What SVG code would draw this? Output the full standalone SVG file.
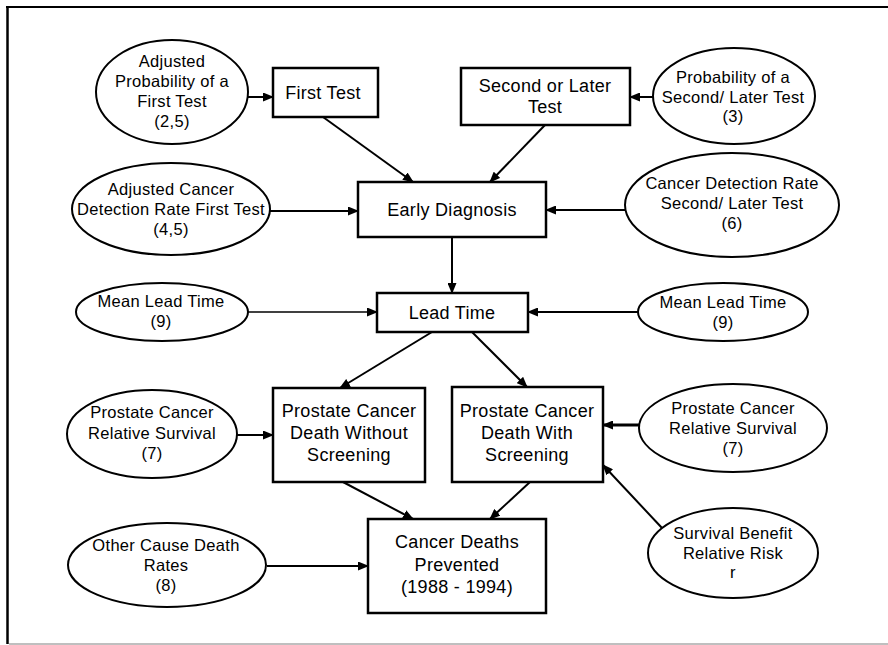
<svg xmlns="http://www.w3.org/2000/svg" width="888" height="645" viewBox="0 0 888 645">
<style>
  .bg{fill:#fff}
  .box{fill:#fff;stroke:#000;stroke-width:2.5}
  .ell{fill:#fff;stroke:#000;stroke-width:2}
  .bt{font-family:"Liberation Sans",Arial,Helvetica,sans-serif;font-size:18px;fill:#000;text-anchor:middle;letter-spacing:0.3px}
  .et{font-family:"Liberation Sans",Arial,Helvetica,sans-serif;font-size:16.5px;fill:#000;text-anchor:middle;letter-spacing:0.3px}
  .c{stroke:#000;stroke-width:2;fill:none;marker-end:url(#ah)}
  .thin{stroke-width:1.3}
  .thick{stroke-width:3}
</style>
<defs>
  <marker id="ah" markerUnits="userSpaceOnUse" markerWidth="11" markerHeight="9" refX="10" refY="4.5" orient="auto">
    <path d="M0,0 L11,4.5 L0,9 z" fill="#000"/>
  </marker>
</defs>
<rect class="bg" x="0" y="0" width="888" height="645"/>
<g id="frame">
  <line x1="7.5" y1="6" x2="7.5" y2="644" stroke="#000" stroke-width="2.5"/>
  <line x1="6" y1="7" x2="888" y2="7" stroke="#000" stroke-width="2"/>
  <line x1="9" y1="644" x2="888" y2="644" stroke="#aaa" stroke-width="1.5"/>
</g>
<g id="connectors">
  <line class="c" x1="248" y1="97" x2="273" y2="97"/>
  <line class="c" x1="323" y1="117" x2="413" y2="182"/>
  <line class="c" x1="545" y1="125" x2="490" y2="182"/>
  <line class="c" x1="653" y1="97" x2="630" y2="97"/>
  <line class="c" x1="270" y1="211" x2="358" y2="211"/>
  <line class="c" x1="625" y1="210" x2="546" y2="210"/>
  <line class="c" x1="452" y1="237" x2="452" y2="293"/>
  <line class="c thin" x1="248" y1="312" x2="377" y2="312"/>
  <line class="c" x1="638" y1="312" x2="528" y2="312"/>
  <line class="c" x1="432" y1="332" x2="340" y2="388"/>
  <line class="c" x1="472" y1="332" x2="527" y2="387"/>
  <line class="c" x1="237" y1="435" x2="273" y2="435"/>
  <line class="c thick" x1="639" y1="425" x2="603" y2="425"/>
  <line class="c" x1="662" y1="528" x2="603" y2="465"/>
  <line class="c" x1="343" y1="482" x2="413" y2="519"/>
  <line class="c" x1="530" y1="482" x2="490" y2="519"/>
  <line class="c" x1="267" y1="566" x2="368" y2="566"/>
</g>
<g id="adj-prob-first">
  <ellipse class="ell" cx="172" cy="92" rx="76" ry="52"/>
  <text class="et" x="172" y="67">Adjusted</text>
  <text class="et" x="172" y="87">Probability of a</text>
  <text class="et" x="172" y="107">First Test</text>
  <text class="et" x="172" y="127">(2,5)</text>
</g>
<g id="first-test">
  <rect class="box" x="273" y="68" width="105" height="49"/>
  <text class="bt" x="323" y="98.5">First Test</text>
</g>
<g id="second-test">
  <rect class="box" x="461" y="68" width="169" height="57"/>
  <text class="bt" x="545" y="92">Second or Later</text>
  <text class="bt" x="545" y="113">Test</text>
</g>
<g id="prob-second">
  <ellipse class="ell" cx="734" cy="96" rx="81" ry="48"/>
  <text class="et" x="733" y="83">Probability of a</text>
  <text class="et" x="733" y="102.5">Second/ Later Test</text>
  <text class="et" x="733" y="122">(3)</text>
</g>
<g id="adj-cdr-first">
  <ellipse class="ell" cx="171" cy="209" rx="99" ry="46"/>
  <text class="et" x="171" y="195">Adjusted Cancer</text>
  <text class="et" x="171" y="215">Detection Rate First Test</text>
  <text class="et" x="171" y="235">(4,5)</text>
</g>
<g id="early-diagnosis">
  <rect class="box" x="358" y="182" width="188" height="55"/>
  <text class="bt" x="452" y="215.5">Early Diagnosis</text>
</g>
<g id="cdr-second">
  <ellipse class="ell" cx="732" cy="205" rx="107" ry="52"/>
  <text class="et" x="732" y="189">Cancer Detection Rate</text>
  <text class="et" x="732" y="209">Second/ Later Test</text>
  <text class="et" x="732" y="229">(6)</text>
</g>
<g id="lead-time">
  <rect class="box" x="377" y="293" width="151" height="39"/>
  <text class="bt" x="452" y="318.5">Lead Time</text>
</g>
<g id="mlt-left">
  <ellipse class="ell" cx="162" cy="312" rx="86" ry="29"/>
  <text class="et" x="161" y="307">Mean Lead Time</text>
  <text class="et" x="161" y="327">(9)</text>
</g>
<g id="mlt-right">
  <ellipse class="ell" cx="723" cy="312" rx="85" ry="29"/>
  <text class="et" x="723" y="308">Mean Lead Time</text>
  <text class="et" x="723" y="327.5">(9)</text>
</g>
<g id="pc-without">
  <rect class="box" x="273" y="388" width="152" height="94"/>
  <text class="bt" x="349" y="417">Prostate Cancer</text>
  <text class="bt" x="349" y="439">Death Without</text>
  <text class="bt" x="349" y="461">Screening</text>
</g>
<g id="pc-with">
  <rect class="box" x="452" y="387" width="151" height="95"/>
  <text class="bt" x="527" y="417">Prostate Cancer</text>
  <text class="bt" x="527" y="439">Death With</text>
  <text class="bt" x="527" y="461">Screening</text>
</g>
<g id="pcrs-left">
  <ellipse class="ell" cx="152" cy="434" rx="85" ry="44"/>
  <text class="et" x="152" y="418">Prostate Cancer</text>
  <text class="et" x="152" y="438.5">Relative Survival</text>
  <text class="et" x="152" y="459">(7)</text>
</g>
<g id="pcrs-right">
  <ellipse class="ell" cx="733" cy="428" rx="94" ry="44"/>
  <text class="et" x="733" y="414">Prostate Cancer</text>
  <text class="et" x="733" y="434">Relative Survival</text>
  <text class="et" x="733" y="454">(7)</text>
</g>
<g id="survival-benefit">
  <ellipse class="ell" cx="733" cy="553" rx="85" ry="45"/>
  <text class="et" x="733" y="539">Survival Benefit</text>
  <text class="et" x="733" y="559">Relative Risk</text>
  <text class="et" x="733" y="578">r</text>
</g>
<g id="other-cause">
  <ellipse class="ell" cx="167" cy="565" rx="99" ry="42"/>
  <text class="et" x="166" y="551">Other Cause Death</text>
  <text class="et" x="166" y="571">Rates</text>
  <text class="et" x="166" y="591">(8)</text>
</g>
<g id="deaths-prevented">
  <rect class="box" x="368" y="519" width="178" height="94"/>
  <text class="bt" x="457" y="548">Cancer Deaths</text>
  <text class="bt" x="457" y="570.5">Prevented</text>
  <text class="bt" x="457" y="593">(1988 - 1994)</text>
</g>
</svg>
